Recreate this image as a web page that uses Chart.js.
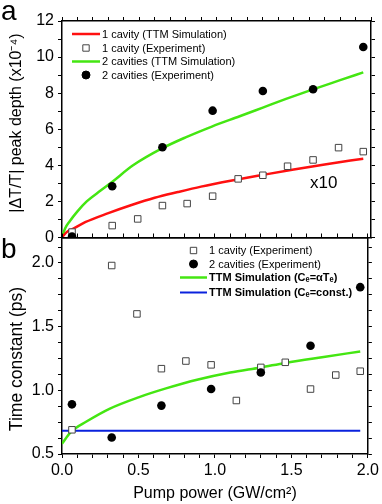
<!DOCTYPE html>
<html>
<head>
<meta charset="utf-8">
<script src="https://cdn.jsdelivr.net/npm/chart.js@4.4.1/dist/chart.umd.min.js"></script>
<style>
  html, body { margin: 0; padding: 0; background: #fff; }
  .wrap { position: relative; width: 382px; height: 504px; }
  .wrap canvas { position: absolute; left: 0; top: 0; }
</style>
</head>
<body>
<div class="wrap">
  <canvas id="chartA" width="382" height="504"></canvas>
  <canvas id="chartB" width="382" height="504"></canvas>
</div>
<script>
// Pump power (GW/cm^2) of the measured points
const oneCavX = [0.065, 0.325, 0.49, 0.65, 0.81, 0.975, 1.14, 1.3, 1.46, 1.625, 1.79, 1.95];
const twoCavX = [0.065, 0.325, 0.65, 0.975, 1.3, 1.625, 1.95];

// panel a - |dT/T| peak depth (x10^-4)
const oneCavDepth = [0.3, 0.66, 1.03, 1.77, 1.88, 2.29, 3.25, 3.45, 3.95, 4.3, 4.98, 4.76];
const twoCavDepth = [0.05, 2.84, 5.0, 7.03, 8.12, 8.22, 10.56];
const oneCavSimX = [0, 0.03, 0.065, 0.15, 0.3, 0.45, 0.6, 0.75, 0.9, 1.1, 1.3, 1.5, 1.7, 1.95];
const oneCavSimDepth = [0, 0.3, 0.45, 0.85, 1.35, 1.8, 2.2, 2.52, 2.82, 3.16, 3.47, 3.77, 4.05, 4.37];
const twoCavSimX = [0, 0.02, 0.05, 0.1, 0.16, 0.25, 0.32, 0.46, 0.65, 0.8, 0.97, 1.15, 1.3, 1.45, 1.62, 1.8, 1.95];
const twoCavSimDepth = [0, 0.5, 0.9, 1.45, 2.0, 2.6, 3.05, 4.0, 4.95, 5.55, 6.15, 6.72, 7.2, 7.68, 8.2, 8.72, 9.15];

// panel b - time constant (ps)
const oneCavTau = [0.69, 1.98, 1.60, 1.17, 1.23, 1.20, 0.92, 1.18, 1.22, 1.01, 1.12, 1.15];
const twoCavTau = [0.89, 0.63, 0.88, 1.01, 1.14, 1.35, 1.81];
const simAlphaX = [0, 0.06, 0.16, 0.31, 0.5, 0.68, 0.89, 1.1, 1.3, 1.46, 1.7, 1.95];
const simAlphaTau = [0.58, 0.675, 0.755, 0.855, 0.945, 1.015, 1.085, 1.14, 1.18, 1.215, 1.26, 1.305];
const simConstX = [0, 1.95];
const simConstTau = [0.683, 0.683];

// tick labels
const xLabels = [0, 0.5, 1.0, 1.5, 2.0];
const yLabelsA = [0, 2, 4, 6, 8, 10, 12];
const yLabelsB = [0.5, 1.0, 1.5, 2.0];

const sans = 'Arial, "Liberation Sans", sans-serif';
Chart.defaults.font.family = sans;
Chart.defaults.color = '#000';

function pts(xs, ys) {
  return xs.map((x, i) => ({ x: x, y: ys[i] }));
}

function hasLabel(list, v) {
  return list.some(t => Math.abs(t - v) < 1e-6);
}

// frame axis (ticks only, labels optional)
function frameAxis(pos, min, max, step, size, extra) {
  return Object.assign({
    type: 'linear',
    position: pos,
    min: min,
    max: max,
    ticks: { display: false, stepSize: step, autoSkip: false, includeBounds: false },
    grid: { display: true, drawOnChartArea: false, drawTicks: true, tickLength: 4, color: '#000', lineWidth: 1 },
    border: { display: true, color: '#000', width: 1.5 },
    afterFit: function (s) {
      if (pos === 'left' || pos === 'right') s.width = size; else s.height = size;
    }
  }, extra || {});
}

// legend drawn inside the plot, entries taken from the datasets
const boxLegend = {
  id: 'boxLegend',
  afterDraw(chart, args, opts) {
    const ctx = chart.ctx;
    ctx.save();
    ctx.textBaseline = 'middle';
    opts.rows.forEach((idx, i) => {
      const ds = chart.data.datasets[idx];
      const y = opts.y[i];
      const x = opts.x;
      const cx = x + opts.len / 2;
      if (ds.showLine === false) {
        ctx.beginPath();
        if (ds.pointStyle === 'rect') {
          ctx.rect(cx - 3.2, y - 3.2, 6.4, 6.4);
        } else {
          ctx.arc(cx, y, 4, 0, Math.PI * 2);
        }
        ctx.fillStyle = ds.backgroundColor;
        ctx.fill();
        ctx.lineWidth = 1;
        ctx.strokeStyle = ds.borderColor;
        ctx.stroke();
      } else {
        ctx.beginPath();
        ctx.moveTo(x, y);
        ctx.lineTo(x + opts.len, y);
        ctx.lineWidth = ds.borderWidth;
        ctx.strokeStyle = ds.borderColor;
        ctx.stroke();
      }
      ctx.fillStyle = '#000';
      ctx.font = ds.legendFont || ('11px ' + sans);
      ctx.fillText(ds.label, x + opts.len + 2, y + 0.5);
    });
    ctx.restore();
  }
};

// free text notes (panel letters, x10, axis titles)
const notes = {
  id: 'notes',
  afterDraw(chart, args, opts) {
    const ctx = chart.ctx;
    opts.items.forEach(n => {
      ctx.save();
      ctx.fillStyle = '#000';
      ctx.font = n.font;
      ctx.translate(n.x, n.y);
      if (n.rot) {
        ctx.rotate(-Math.PI / 2);
        ctx.textAlign = 'center';
        ctx.textBaseline = 'middle';
      } else {
        ctx.textBaseline = 'alphabetic';
      }
      ctx.fillText(n.text, 0, 0);
      ctx.restore();
    });
  }
};

const lineStyle = { showLine: true, pointRadius: 0, borderWidth: 2.5, cubicInterpolationMode: 'monotone', order: 2 };
const squareStyle = { showLine: false, pointStyle: 'rect', pointRadius: 4.6, backgroundColor: '#fff', borderColor: '#444', borderWidth: 1, order: 1 };
const dotStyle = { showLine: false, pointStyle: 'circle', pointRadius: 4.3, backgroundColor: '#000', borderColor: '#000', borderWidth: 0, order: 0 };

// Panel a

new Chart(document.getElementById('chartA'), {
  type: 'scatter',
  data: {
    datasets: [
      Object.assign({ label: '1 cavity (TTM Simulation)', data: pts(oneCavSimX, oneCavSimDepth), borderColor: '#ff1010' }, lineStyle),
      Object.assign({ label: '1 cavity (Experiment)', data: pts(oneCavX, oneCavDepth) }, squareStyle),
      Object.assign({ label: '2 cavities (TTM Simulation)', data: pts(twoCavSimX, twoCavSimDepth), borderColor: '#44e612' }, lineStyle),
      Object.assign({ label: '2 cavities (Experiment)', data: pts(twoCavX, twoCavDepth) }, dotStyle)
    ]
  },
  options: {
    responsive: false,
    animation: false,
    devicePixelRatio: 1,
    layout: { padding: { top: 21, right: 11, bottom: 258.5, left: 0 } },
    scales: {
      x: frameAxis('bottom', 0, 2, 0.1, 8, {
        grid: { display: true, drawOnChartArea: false, drawTicks: false, color: '#000' }
      }),
      x2: frameAxis('top', 0, 2, 0.1, 0),
      y: frameAxis('left', 0, 12, 1, 62, {
        ticks: {
          display: true, stepSize: 1, autoSkip: false, includeBounds: false, padding: 4,
          font: { size: 16 },
          callback: v => hasLabel(yLabelsA, v) ? String(v) : ''
        }
      }),
      y2: frameAxis('right', 0, 12, 1, 0)
    },
    plugins: {
      legend: { display: false },
      tooltip: { enabled: false },
      boxLegend: { x: 72, len: 28, rows: [0, 1, 2, 3], y: [34, 48, 61.5, 75] },
      notes: {
        items: [
          { text: 'a', x: 1, y: 20, font: '28px ' + sans },
          { text: 'x10', x: 310, y: 188, font: '17px ' + sans },
          { text: '|ΔT/T| peak depth (x10⁻⁴)', x: 17, y: 123, rot: true, font: '16px ' + sans }
        ]
      }
    }
  },
  plugins: [boxLegend, notes]
});

// Panel b

new Chart(document.getElementById('chartB'), {
  type: 'scatter',
  data: {
    datasets: [
      Object.assign({ label: '1 cavity (Experiment)', data: pts(oneCavX, oneCavTau) }, squareStyle),
      Object.assign({ label: '2 cavities (Experiment)', data: pts(twoCavX, twoCavTau) }, dotStyle),
      Object.assign({ label: 'TTM Simulation (Cₑ=αTₑ)', data: pts(simAlphaX, simAlphaTau), borderColor: '#44e612', legendFont: 'bold 11px ' + sans }, lineStyle),
      Object.assign({ label: 'TTM Simulation (Cₑ=const.)', data: pts(simConstX, simConstTau), borderColor: '#0a22dd', legendFont: 'bold 11px ' + sans }, lineStyle, { borderWidth: 2 })
    ]
  },
  options: {
    responsive: false,
    animation: false,
    devicePixelRatio: 1,
    layout: { padding: { top: 237.5, right: 11, bottom: 0, left: 0 } },
    scales: {
      x: frameAxis('bottom', 0, 2, 0.1, 50, {
        ticks: {
          display: true, stepSize: 0.1, autoSkip: false, includeBounds: false, padding: 3, maxRotation: 0,
          font: { size: 16 },
          callback: v => hasLabel(xLabels, v) ? v.toFixed(1) : ''
        },
        title: { display: true, text: 'Pump power (GW/cm²)', font: { size: 16 }, padding: { top: 0, bottom: 1 } }
      }),
      x2: frameAxis('top', 0, 2, 0.1, 0),
      y: frameAxis('left', 0.5, 2.2, 0.125, 62, {
        ticks: {
          display: true, stepSize: 0.125, autoSkip: false, includeBounds: false, padding: 4,
          font: { size: 16 },
          callback: v => hasLabel(yLabelsB, v) ? v.toFixed(1) : ''
        }
      }),
      y2: frameAxis('right', 0.5, 2.2, 0.125, 0)
    },
    plugins: {
      legend: { display: false },
      tooltip: { enabled: false },
      boxLegend: { x: 180, len: 27, rows: [0, 1, 2, 3], y: [250.5, 264, 277.5, 292.5] },
      notes: {
        items: [
          { text: 'b', x: 1, y: 258, font: '28px ' + sans },
          { text: 'Time constant (ps)', x: 17, y: 359, rot: true, font: '17.5px ' + sans }
        ]
      }
    }
  },
  plugins: [boxLegend, notes]
});
</script>
</body>
</html>
